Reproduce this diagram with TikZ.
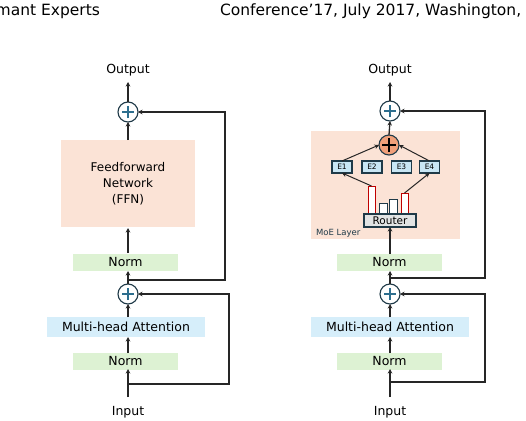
\documentclass[tikz,border=0pt]{standalone}
\usepackage{fontspec}
\setmainfont{DejaVu Sans}
\newfontfamily\headfont{DejaVu Sans}
\usetikzlibrary{arrows.meta}
\definecolor{peach}{HTML}{FBE3D6}
\definecolor{normgreen}{HTML}{DDF2D3}
\definecolor{mhablue}{HTML}{D6EEFA}
\definecolor{eblue}{HTML}{C8E6F4}
\definecolor{dark}{HTML}{1F3A48}
\definecolor{plusblue}{HTML}{2D6E8E}
\definecolor{orangec}{HTML}{F0A07A}
\definecolor{redbar}{HTML}{C00000}
\definecolor{routergray}{HTML}{E2E4E4}
\begin{document}
\begin{tikzpicture}[x=1pt,y=-1pt,
  every node/.style={inner sep=0pt,outer sep=0pt},
  arr/.style={line width=1.3pt,draw=black!85,-{Stealth[length=4.5pt,width=4.5pt]}},
  normbox/.style={fill=normgreen,minimum width=105pt,minimum height=17pt,font=\fontsize{12.5}{13}\selectfont},
  mhabox/.style={fill=mhablue,minimum height=20pt,font=\fontsize{12.5}{13}\selectfont},
  plusc/.style={circle,draw=dark,line width=1.1pt,fill=white,minimum size=20pt,
    path picture={\draw[plusblue,line width=1.1pt] ([xshift=-6pt]path picture bounding box.center)--([xshift=6pt]path picture bounding box.center);
                  \draw[plusblue,line width=1.1pt] ([yshift=-6pt]path picture bounding box.center)--([yshift=6pt]path picture bounding box.center);}},
  orangeplus/.style={circle,draw=dark,line width=1.1pt,fill=orangec,minimum size=20pt,
    path picture={\draw[black,line width=1.1pt] ([xshift=-7pt]path picture bounding box.center)--([xshift=7pt]path picture bounding box.center);
                  \draw[black,line width=1.1pt] ([yshift=-7pt]path picture bounding box.center)--([yshift=7pt]path picture bounding box.center);}},
  ebox/.style={draw=dark,line width=1.1pt,fill=eblue,minimum width=20pt,minimum height=12pt,font=\fontsize{7.5}{8}\selectfont},
  lbl/.style={font=\fontsize{12.5}{13}\selectfont},
  bar/.style={draw=redbar,line width=1pt,fill=white},
  sbar/.style={draw=dark,line width=1pt,fill=white}
]
\useasboundingbox (0,0) rectangle (526,420);
\fill[white] (0,0) rectangle (526,420);

% header
\node[anchor=base east,font=\headfont\fontsize{15.5}{16}\selectfont] (h1) at (100,16) {mant Experts};
\node[anchor=base west,font=\headfont\fontsize{15.5}{16}\selectfont] (h2) at (220,16) {Conference’17, July 2017, Washington,};

% ===== Left diagram =====
\node[lbl] (outL) at (128,70) {Output};
\node[plusc] (p2L) at (128,112) {};
\node[fill=peach,minimum width=134pt,minimum height=87pt,align=center,font=\fontsize{12}{16}\selectfont] (ffn) at (128,183.5) {Feedforward\\Network\\(FFN)};
\node[normbox] (n2L) at (125.5,262.5) {Norm};
\coordinate (jL) at (128,280);
\node[plusc] (p1L) at (128,294) {};
\node[mhabox,minimum width=158pt] (mhaL) at (126,327) {Multi-head Attention};
\node[normbox] (n1L) at (125.5,361) {Norm};
\coordinate (inL) at (128,397);
\coordinate (jL2) at (128,384);
\node[lbl] (inputL) at (128,412) {Input};

\draw[arr] (p2L.north) -- (128,82);
\draw[arr] (128,140) -- (p2L.south);
\draw[arr] (128,253) -- (128,228);
\draw[arr] (p1L.north) -- (128,271);
\draw[arr] (128,317) -- (p1L.south);
\draw[arr] (128,353) -- (128,337);
\draw[arr] (inL) -- (128,369);
\draw[arr] (jL) -- (225,280) -- (225,112) -- (p2L.east);
\draw[arr] (jL2) -- (229,384) -- (229,294) -- (p1L.east);

% ===== Right diagram =====
\node[lbl] (outR) at (390,70) {Output};
\node[plusc] (p2R) at (390,111) {};
\node[fill=peach,minimum width=149pt,minimum height=108pt] (moe) at (385.5,185) {};
\draw[white,line width=0.8pt,dash pattern=on 1.5pt off 2pt] (moe.north east) -- (moe.south east);
\node[anchor=west,text=dark,font=\fontsize{8.5}{9}\selectfont] (moelbl) at (316,233) {MoE Layer};
\node[orangeplus] (oc) at (389,145) {};
\node[ebox] (e1) at (342,167) {E1};
\node[ebox] (e2) at (372,167) {E2};
\node[ebox] (e3) at (401.5,167) {E3};
\node[ebox] (e4) at (429.5,167) {E4};
\node[bar,minimum width=7pt,minimum height=27pt] (b1) at (371.5,199.5) {};
\node[sbar,minimum width=8pt,minimum height=10pt] (b2) at (383,208) {};
\node[sbar,minimum width=8pt,minimum height=14pt] (b3) at (393,206) {};
\node[bar,minimum width=7pt,minimum height=20pt] (b4) at (404.5,203) {};
\node[draw=dark,line width=1.1pt,fill=routergray,minimum width=52pt,minimum height=13pt,font=\fontsize{10.5}{11}\selectfont] (router) at (390,220.5) {Router};
\node[normbox] (n2R) at (389.5,262.5) {Norm};
\coordinate (jR) at (390,278);
\node[plusc] (p1R) at (390,294) {};
\node[mhabox,minimum width=158pt] (mhaR) at (390,327) {Multi-head Attention};
\node[normbox] (n1R) at (389.5,361) {Norm};
\coordinate (inR) at (390,397);
\coordinate (jR2) at (390,382);
\node[lbl] (inputR) at (390,412) {Input};

\draw[arr] (p2R.north) -- (390,82);
\draw[arr] (oc.north) -- (p2R.south);
\draw[arr,line width=1pt] (e1.north) -- (oc.west);
\draw[arr,line width=1pt] (e4.north) -- (oc.east);
\draw[arr,line width=1pt] (b1.north) -- (e1.south);
\draw[arr,line width=1pt] (b4.north) -- (e4.south);
\draw[arr] (390,254) -- (router.south);
\draw[arr] (p1R.north) -- (390,271);
\draw[arr] (390,317) -- (p1R.south);
\draw[arr] (390,353) -- (390,337);
\draw[arr] (inR) -- (390,369);
\draw[arr] (jR) -- (485,278) -- (485,111) -- (p2R.east);
\draw[arr] (jR2) -- (485,382) -- (485,294) -- (p1R.east);
\end{tikzpicture}
\end{document}
